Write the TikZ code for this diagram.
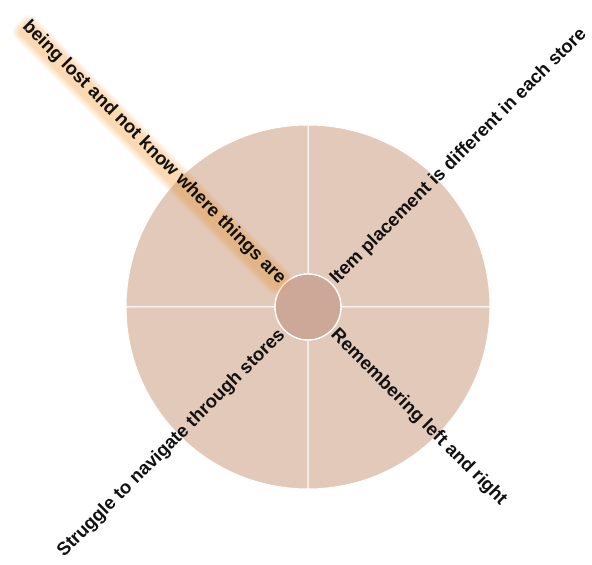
\documentclass[tikz,border=0pt]{standalone}
\usepackage{fontspec}
\setmainfont{Liberation Sans}
\usetikzlibrary{calc}
\definecolor{ringfill}{HTML}{E3C9BA}
\definecolor{hubfill}{HTML}{CDA898}
\definecolor{glowamber}{HTML}{F0962E}
\definecolor{labelink}{HTML}{111111}

\begin{document}
\begin{tikzpicture}[
  x=1pt,
  y=1pt,
  sector/.style={fill=ringfill, draw=white, line width=1pt},
  hub/.style={circle, fill=hubfill, draw=white, line width=1.4pt,
    minimum size=66pt, inner sep=0pt},
  spoke/.style={font=\bfseries\fontsize{18.5}{20}\selectfont,
    text=labelink, inner sep=1pt},
  halo/.style={fill=glowamber, opacity=0.055}
]
\useasboundingbox (0,0) rectangle (592,565);
\coordinate (c) at (308,258);

% Ring in four quadrants
\foreach \a in {0,90,180,270}
  \draw[sector] (c) -- ++(\a:182)
    arc[start angle=\a, delta angle=90, radius=182] -- cycle;

% Hub
\node[hub] (hub) at (c) {};

% Soft glow behind the highlighted label
\coordinate (lostend) at ($(c)+(135:35)$);
\begin{scope}[shift={(lostend)}, rotate=-45]
  \foreach \g in {0,...,7}
    \fill[halo, rounded corners=2pt+\g pt]
      (-364-\g, -10-\g) rectangle (\g, 5+\g);
\end{scope}

% Diagonal labels
\node[spoke, anchor=east, rotate=-45] (lost) at (lostend)
      {being lost and not know where things are};
\node[spoke, anchor=west, rotate=45] (placement) at ($(c)+(45:35)$)
      {Item placement is different in each store};
\node[spoke, anchor=east, rotate=45] (navigate) at ($(c)+(225:35)$)
      {Struggle to navigate through stores};
\node[spoke, anchor=west, rotate=-45] (leftright) at ($(c)+(-45:35)$)
      {Remembering left and right};
\end{tikzpicture}
\end{document}
